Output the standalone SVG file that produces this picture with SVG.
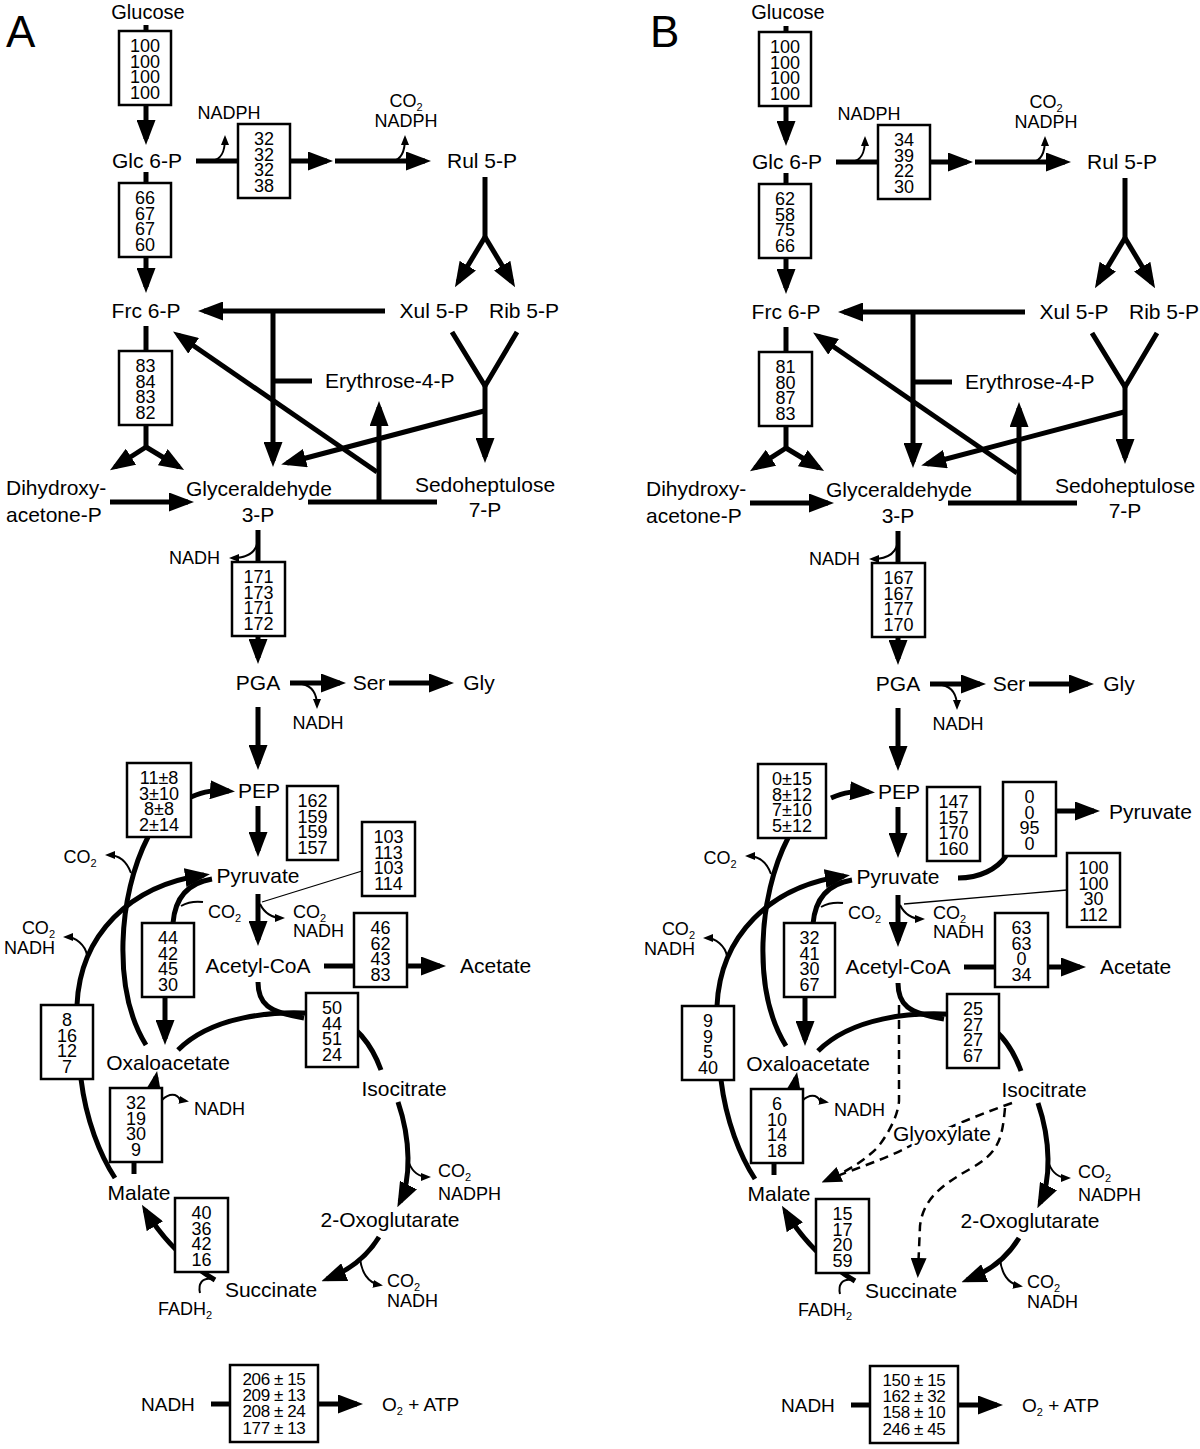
<svg xmlns="http://www.w3.org/2000/svg" xmlns:xlink="http://www.w3.org/1999/xlink" width="1200" height="1449" viewBox="0 0 1200 1449">
<style>
text{font-family:"Liberation Sans",Arial,sans-serif;fill:#000}
.L{font-size:21px}
.G{font-size:20px;text-anchor:middle}
.S{font-size:18px}
.N{font-size:18px;text-anchor:middle}
.R{font-size:17px;text-anchor:middle;letter-spacing:-0.4px}
.Q{font-size:19px}
.m{text-anchor:middle}
.e{text-anchor:end}
.sub{font-size:11px}
.bx{fill:#fff;stroke:#000;stroke-width:2.5}
.k{fill:none;stroke:#000;stroke-width:5}
.t{fill:none;stroke:#000;stroke-width:2}
.th{fill:none;stroke:#000;stroke-width:1.3}
.d{fill:none;stroke:#000;stroke-width:2.5;stroke-dasharray:9 6}
.P{font-size:44px}
</style>
<defs>
<marker id="ah" markerUnits="userSpaceOnUse" markerWidth="25" markerHeight="19" refX="19" refY="9.5" orient="auto"><path d="M0,0L25,9.5L0,19z"/></marker>
<marker id="as" markerUnits="userSpaceOnUse" markerWidth="10" markerHeight="8" refX="7" refY="4" orient="auto"><path d="M0,0L10,4L0,8z"/></marker>
<marker id="ad" markerUnits="userSpaceOnUse" markerWidth="20" markerHeight="16" refX="14" refY="8" orient="auto"><path d="M0,0L20,8L0,16z"/></marker>
</defs>
<rect width="1200" height="1449" fill="#fff"/>

<g id="connectors">
<g id="conn-common">
<path class="k" d="M146,25V31"/>
<path class="k" d="M146,105V139" marker-end="url(#ah)"/>
<path class="k" d="M196,161H327" marker-end="url(#ah)"/>
<path class="k" d="M335,161H425" marker-end="url(#ah)"/>
<path class="t" d="M211,161C222,160 225,151 225,138" marker-end="url(#as)"/>
<path class="t" d="M392,161C402,160 405,151 405,138" marker-end="url(#as)"/>
<path class="k" d="M485,177V237"/>
<path class="k" d="M485,237L458,282" marker-end="url(#ah)"/>
<path class="k" d="M485,237L512,282" marker-end="url(#ah)"/>
<path class="k" d="M146,172V183"/>
<path class="k" d="M146,257V287" marker-end="url(#ah)"/>
<path class="k" d="M385,311H204" marker-end="url(#ah)"/>
<path class="k" d="M273,311V461" marker-end="url(#ah)"/>
<path class="k" d="M273,381H312"/>
<path class="k" d="M452,332L485,386L517,332"/>
<path class="k" d="M485,386V457" marker-end="url(#ah)"/>
<path class="k" d="M484,411L287,463" marker-end="url(#ah)"/>
<path class="k" d="M308,502H437"/>
<path class="k" d="M379,502V407" marker-end="url(#ah)"/>
<path class="k" d="M377,472L178,335" marker-end="url(#ah)"/>
<path class="k" d="M146,326V351"/>
<path class="k" d="M146,425V447"/>
<path class="k" d="M146,447L115,467" marker-end="url(#ah)"/>
<path class="k" d="M146,447L179,467" marker-end="url(#ah)"/>
<path class="k" d="M110,502H188" marker-end="url(#ah)"/>
<path class="k" d="M258,530V562"/>
<path class="t" d="M258,537C258,551 249,558 232,558" marker-end="url(#as)"/>
<path class="k" d="M258,636V658" marker-end="url(#ah)"/>
<path class="k" d="M290,683H340" marker-end="url(#ah)"/>
<path class="k" d="M389,683H448" marker-end="url(#ah)"/>
<path class="t" d="M302,684C312,686 317,694 317,706" marker-end="url(#as)"/>
<path class="k" d="M258,707V764" marker-end="url(#ah)"/>
<path class="k" d="M191,797C205,791 214,790 229,791" marker-end="url(#ah)"/>
<path class="k" d="M258,806V851" marker-end="url(#ah)"/>
<path class="k" d="M258,894V940" marker-end="url(#ah)"/>
<path class="t" d="M260,904C265,914 273,918 282,918" marker-end="url(#as)"/>
<path class="k" d="M173,923C175,898 188,883 212,879"/>
<path class="t" d="M181,906C188,902 195,901 203,902"/>
<path class="k" d="M165,997V1039" marker-end="url(#ah)"/>
<path class="k" d="M77,1005C80,935 130,885 204,875" marker-end="url(#ah)"/>
<path class="t" d="M87,955C85,945 76,937 66,937" marker-end="url(#as)"/>
<path class="k" d="M81,1079C86,1120 100,1155 115,1178"/>
<path class="k" d="M148,837C118,895 112,990 146,1045"/>
<path class="t" d="M131,873C127,862 119,855 108,855" marker-end="url(#as)"/>
<path class="k" d="M324,966H354"/>
<path class="k" d="M407,966H440" marker-end="url(#ah)"/>
<path class="k" d="M178,1050C210,1018 270,1008 330,1015C355,1022 372,1045 381,1070"/>
<path class="k" d="M258,982C258,1004 268,1012 304,1018"/>
<path class="k" d="M154,1088L156,1077" marker-end="url(#ah)"/>
<path class="k" d="M134,1162V1174"/>
<path class="t" d="M162,1100C169,1093 177,1093 180,1100L186,1101" marker-end="url(#as)"/>
<path class="k" d="M215,1280C195,1268 168,1248 145,1210" marker-end="url(#ah)"/>
<path class="t" d="M200,1293C198,1284 202,1277 212,1279"/>
<path class="k" d="M398,1102C411,1140 411,1180 400,1202" marker-end="url(#ah)"/>
<path class="t" d="M409,1163C413,1173 420,1177 428,1177" marker-end="url(#as)"/>
<path class="k" d="M379,1237C365,1260 345,1272 327,1279" marker-end="url(#ah)"/>
<path class="t" d="M360,1257C361,1272 368,1283 380,1285" marker-end="url(#as)"/>
<path class="k" d="M211,1404H230"/>
<path class="k" d="M318,1404H357" marker-end="url(#ah)"/>
</g>
<path class="th" d="M362,871L262,902"/>
<g id="conn-B" transform="translate(640,1)">
<use xlink:href="#conn-common" href="#conn-common"/>
<path class="th" d="M427,889L264,903"/>
<path class="k" d="M318,877C340,877 357,868 366,855"/>
<path class="k" d="M416,810H454" marker-end="url(#ah)"/>
<path class="d" d="M259,1004V1100C258,1114 250,1130 238,1146C222,1162 205,1171 187,1179" marker-end="url(#ad)"/>
<path class="d" d="M372,1102C335,1115 300,1130 268,1146C245,1158 215,1168 192,1177"/>
<path class="d" d="M365,1107C362,1140 358,1152 330,1168C298,1186 283,1200 280,1225L278,1271" marker-end="url(#ad)"/>
</g>
</g>

<g id="nodes-A">
<g id="A-label"><text class="P" x="6" y="47">A</text></g>
<g id="A-glucose"><text class="G" x="148" y="19">Glucose</text></g>
<g id="A-glc6p"><text class="L m" x="147" y="168">Glc 6-P</text></g>
<g id="A-rul5p"><text class="L m" x="482" y="168">Rul 5-P</text></g>
<g id="A-frc6p"><text class="L m" x="146" y="318">Frc 6-P</text></g>
<g id="A-xul5p"><text class="L m" x="434" y="318">Xul 5-P</text></g>
<g id="A-rib5p"><text class="L m" x="524" y="318">Rib 5-P</text></g>
<g id="A-e4p"><text class="L" x="325" y="388">Erythrose-4-P</text></g>
<g id="A-dhap"><text class="L" x="6" y="495">Dihydroxy-</text><text class="L" x="6" y="522">acetone-P</text></g>
<g id="A-gap"><text class="L m" x="259" y="496">Glyceraldehyde</text><text class="L m" x="258" y="522">3-P</text></g>
<g id="A-s7p"><text class="L m" x="485" y="492">Sedoheptulose</text><text class="L m" x="485" y="517">7-P</text></g>
<g id="A-pga"><text class="L m" x="258" y="690">PGA</text></g>
<g id="A-ser"><text class="L m" x="369" y="690">Ser</text></g>
<g id="A-gly"><text class="L m" x="479" y="690">Gly</text></g>
<g id="A-pep"><text class="L m" x="259" y="798">PEP</text></g>
<g id="A-pyr"><text class="L m" x="258" y="883">Pyruvate</text></g>
<g id="A-accoa"><text class="L m" x="258" y="973">Acetyl-CoA</text></g>
<g id="A-acetate"><text class="L" x="460" y="973">Acetate</text></g>
<g id="A-oaa"><text class="L m" x="168" y="1070">Oxaloacetate</text></g>
<g id="A-icit"><text class="L m" x="404" y="1096">Isocitrate</text></g>
<g id="A-mal"><text class="L m" x="139" y="1200">Malate</text></g>
<g id="A-2og"><text class="L m" x="390" y="1227">2-Oxoglutarate</text></g>
<g id="A-succ"><text class="L m" x="271" y="1297">Succinate</text></g>
<g id="A-cofactors">
<text class="S m" x="229" y="119">NADPH</text>
<text class="S m" x="406" y="107">CO<tspan class="sub" dy="4">2</tspan><tspan x="406" dy="16">NADPH</tspan></text>
<text class="S e" x="220" y="564">NADH</text>
<text class="S m" x="318" y="729">NADH</text>
<text class="S m" x="80" y="863">CO<tspan class="sub" dy="4">2</tspan></text>
<text class="S e" x="55" y="934">CO<tspan class="sub" dy="4">2</tspan><tspan x="55" dy="16">NADH</tspan></text>
<text class="S" x="208" y="918">CO<tspan class="sub" dy="4">2</tspan></text>
<text class="S" x="293" y="918">CO<tspan class="sub" dy="4">2</tspan><tspan x="293" dy="15">NADH</tspan></text>
<text class="S" x="194" y="1115">NADH</text>
<text class="S" x="438" y="1177">CO<tspan class="sub" dy="4">2</tspan><tspan x="438" dy="19">NADPH</tspan></text>
<text class="S" x="387" y="1287">CO<tspan class="sub" dy="4">2</tspan><tspan x="387" dy="16">NADH</tspan></text>
<text class="S" x="158" y="1315">FADH<tspan class="sub" dy="4">2</tspan></text>
<text class="Q" x="141" y="1411">NADH</text>
<text class="Q" x="382" y="1411">O<tspan class="sub" dy="4">2</tspan><tspan dy="-4"> + ATP</tspan></text>
</g>
<g id="A-f1"><rect class="bx" x="119" y="31" width="52" height="74"/><text class="N" x="145" y="52">100<tspan x="145" dy="15.7">100</tspan><tspan x="145" dy="15.7">100</tspan><tspan x="145" dy="15.7">100</tspan></text></g>
<g id="A-f2"><rect class="bx" x="238" y="124" width="52" height="74"/><text class="N" x="264" y="145">32<tspan x="264" dy="15.7">32</tspan><tspan x="264" dy="15.7">32</tspan><tspan x="264" dy="15.7">38</tspan></text></g>
<g id="A-f3"><rect class="bx" x="119" y="183" width="52" height="74"/><text class="N" x="145" y="204">66<tspan x="145" dy="15.7">67</tspan><tspan x="145" dy="15.7">67</tspan><tspan x="145" dy="15.7">60</tspan></text></g>
<g id="A-f4"><rect class="bx" x="119" y="351" width="53" height="74"/><text class="N" x="145.5" y="372">83<tspan x="145.5" dy="15.7">84</tspan><tspan x="145.5" dy="15.7">83</tspan><tspan x="145.5" dy="15.7">82</tspan></text></g>
<g id="A-f5"><rect class="bx" x="232" y="562" width="53" height="74"/><text class="N" x="258.5" y="583">171<tspan x="258.5" dy="15.7">173</tspan><tspan x="258.5" dy="15.7">171</tspan><tspan x="258.5" dy="15.7">172</tspan></text></g>
<g id="A-f6"><rect class="bx" x="127" y="763" width="64" height="74"/><text class="N" x="159" y="784">11±8<tspan x="159" dy="15.7">3±10</tspan><tspan x="159" dy="15.7">8±8</tspan><tspan x="159" dy="15.7">2±14</tspan></text></g>
<g id="A-f7"><rect class="bx" x="287" y="786" width="51" height="74"/><text class="N" x="312.5" y="807">162<tspan x="312.5" dy="15.7">159</tspan><tspan x="312.5" dy="15.7">159</tspan><tspan x="312.5" dy="15.7">157</tspan></text></g>
<g id="A-f8"><rect class="bx" x="362" y="822" width="53" height="74"/><text class="N" x="388.5" y="843">103<tspan x="388.5" dy="15.7">113</tspan><tspan x="388.5" dy="15.7">103</tspan><tspan x="388.5" dy="15.7">114</tspan></text></g>
<g id="A-f9"><rect class="bx" x="142" y="923" width="52" height="74"/><text class="N" x="168" y="944">44<tspan x="168" dy="15.7">42</tspan><tspan x="168" dy="15.7">45</tspan><tspan x="168" dy="15.7">30</tspan></text></g>
<g id="A-f10"><rect class="bx" x="354" y="913" width="53" height="74"/><text class="N" x="380.5" y="934">46<tspan x="380.5" dy="15.7">62</tspan><tspan x="380.5" dy="15.7">43</tspan><tspan x="380.5" dy="15.7">83</tspan></text></g>
<g id="A-f11"><rect class="bx" x="41" y="1005" width="52" height="74"/><text class="N" x="67" y="1026">8<tspan x="67" dy="15.7">16</tspan><tspan x="67" dy="15.7">12</tspan><tspan x="67" dy="15.7">7</tspan></text></g>
<g id="A-f12"><rect class="bx" x="306" y="993" width="52" height="74"/><text class="N" x="332" y="1014">50<tspan x="332" dy="15.7">44</tspan><tspan x="332" dy="15.7">51</tspan><tspan x="332" dy="15.7">24</tspan></text></g>
<g id="A-f13"><rect class="bx" x="110" y="1088" width="52" height="74"/><text class="N" x="136" y="1109">32<tspan x="136" dy="15.7">19</tspan><tspan x="136" dy="15.7">30</tspan><tspan x="136" dy="15.7">9</tspan></text></g>
<g id="A-f14"><rect class="bx" x="175" y="1198" width="53" height="74"/><text class="N" x="201.5" y="1219">40<tspan x="201.5" dy="15.7">36</tspan><tspan x="201.5" dy="15.7">42</tspan><tspan x="201.5" dy="15.7">16</tspan></text></g>
<g id="A-f15"><rect class="bx" x="230" y="1365" width="88" height="77"/><text class="R" x="274" y="1385">206 ± 15<tspan x="274" dy="16.2">209 ± 13</tspan><tspan x="274" dy="16.2">208 ± 24</tspan><tspan x="274" dy="16.2">177 ± 13</tspan></text></g>
</g>

<g id="nodes-B" transform="translate(640,1)">
<g id="B-label"><text class="P" x="10" y="46">B</text></g>
<g id="B-glucose"><text class="G" x="148" y="18">Glucose</text></g>
<g id="B-glc6p"><text class="L m" x="147" y="168">Glc 6-P</text></g>
<g id="B-rul5p"><text class="L m" x="482" y="168">Rul 5-P</text></g>
<g id="B-frc6p"><text class="L m" x="146" y="318">Frc 6-P</text></g>
<g id="B-xul5p"><text class="L m" x="434" y="318">Xul 5-P</text></g>
<g id="B-rib5p"><text class="L m" x="524" y="318">Rib 5-P</text></g>
<g id="B-e4p"><text class="L" x="325" y="388">Erythrose-4-P</text></g>
<g id="B-dhap"><text class="L" x="6" y="495">Dihydroxy-</text><text class="L" x="6" y="522">acetone-P</text></g>
<g id="B-gap"><text class="L m" x="259" y="496">Glyceraldehyde</text><text class="L m" x="258" y="522">3-P</text></g>
<g id="B-s7p"><text class="L m" x="485" y="492">Sedoheptulose</text><text class="L m" x="485" y="517">7-P</text></g>
<g id="B-pga"><text class="L m" x="258" y="690">PGA</text></g>
<g id="B-ser"><text class="L m" x="369" y="690">Ser</text></g>
<g id="B-gly"><text class="L m" x="479" y="690">Gly</text></g>
<g id="B-pep"><text class="L m" x="259" y="798">PEP</text></g>
<g id="B-pyr"><text class="L m" x="258" y="883">Pyruvate</text></g>
<g id="B-pyrout"><text class="L" x="469" y="818">Pyruvate</text></g>
<g id="B-accoa"><text class="L m" x="258" y="973">Acetyl-CoA</text></g>
<g id="B-acetate"><text class="L" x="460" y="973">Acetate</text></g>
<g id="B-oaa"><text class="L m" x="168" y="1070">Oxaloacetate</text></g>
<g id="B-icit"><text class="L m" x="404" y="1096">Isocitrate</text></g>
<g id="B-glyox"><text class="L" x="253" y="1140" stroke="#fff" stroke-width="6" paint-order="stroke">Glyoxylate</text></g>
<g id="B-mal"><text class="L m" x="139" y="1200">Malate</text></g>
<g id="B-2og"><text class="L m" x="390" y="1227">2-Oxoglutarate</text></g>
<g id="B-succ"><text class="L m" x="271" y="1297">Succinate</text></g>
<g id="B-cofactors">
<text class="S m" x="229" y="119">NADPH</text>
<text class="S m" x="406" y="107">CO<tspan class="sub" dy="4">2</tspan><tspan x="406" dy="16">NADPH</tspan></text>
<text class="S e" x="220" y="564">NADH</text>
<text class="S m" x="318" y="729">NADH</text>
<text class="S m" x="80" y="863">CO<tspan class="sub" dy="4">2</tspan></text>
<text class="S e" x="55" y="934">CO<tspan class="sub" dy="4">2</tspan><tspan x="55" dy="16">NADH</tspan></text>
<text class="S" x="208" y="918">CO<tspan class="sub" dy="4">2</tspan></text>
<text class="S" x="293" y="918">CO<tspan class="sub" dy="4">2</tspan><tspan x="293" dy="15">NADH</tspan></text>
<text class="S" x="194" y="1115">NADH</text>
<text class="S" x="438" y="1177">CO<tspan class="sub" dy="4">2</tspan><tspan x="438" dy="19">NADPH</tspan></text>
<text class="S" x="387" y="1287">CO<tspan class="sub" dy="4">2</tspan><tspan x="387" dy="16">NADH</tspan></text>
<text class="S" x="158" y="1315">FADH<tspan class="sub" dy="4">2</tspan></text>
<text class="Q" x="141" y="1411">NADH</text>
<text class="Q" x="382" y="1411">O<tspan class="sub" dy="4">2</tspan><tspan dy="-4"> + ATP</tspan></text>
</g>
<g id="B-f1"><rect class="bx" x="119" y="31" width="52" height="74"/><text class="N" x="145" y="52">100<tspan x="145" dy="15.7">100</tspan><tspan x="145" dy="15.7">100</tspan><tspan x="145" dy="15.7">100</tspan></text></g>
<g id="B-f2"><rect class="bx" x="238" y="124" width="52" height="74"/><text class="N" x="264" y="145">34<tspan x="264" dy="15.7">39</tspan><tspan x="264" dy="15.7">22</tspan><tspan x="264" dy="15.7">30</tspan></text></g>
<g id="B-f3"><rect class="bx" x="119" y="183" width="52" height="74"/><text class="N" x="145" y="204">62<tspan x="145" dy="15.7">58</tspan><tspan x="145" dy="15.7">75</tspan><tspan x="145" dy="15.7">66</tspan></text></g>
<g id="B-f4"><rect class="bx" x="119" y="351" width="53" height="74"/><text class="N" x="145.5" y="372">81<tspan x="145.5" dy="15.7">80</tspan><tspan x="145.5" dy="15.7">87</tspan><tspan x="145.5" dy="15.7">83</tspan></text></g>
<g id="B-f5"><rect class="bx" x="232" y="562" width="53" height="74"/><text class="N" x="258.5" y="583">167<tspan x="258.5" dy="15.7">167</tspan><tspan x="258.5" dy="15.7">177</tspan><tspan x="258.5" dy="15.7">170</tspan></text></g>
<g id="B-f6"><rect class="bx" x="118" y="763" width="68" height="74"/><text class="N" x="152" y="784">0±15<tspan x="152" dy="15.7">8±12</tspan><tspan x="152" dy="15.7">7±10</tspan><tspan x="152" dy="15.7">5±12</tspan></text></g>
<g id="B-f7"><rect class="bx" x="287" y="786" width="53" height="74"/><text class="N" x="313.5" y="807">147<tspan x="313.5" dy="15.7">157</tspan><tspan x="313.5" dy="15.7">170</tspan><tspan x="313.5" dy="15.7">160</tspan></text></g>
<g id="B-fx"><rect class="bx" x="363" y="781" width="53" height="74"/><text class="N" x="389.5" y="802">0<tspan x="389.5" dy="15.7">0</tspan><tspan x="389.5" dy="15.7">95</tspan><tspan x="389.5" dy="15.7">0</tspan></text></g>
<g id="B-f8"><rect class="bx" x="427" y="852" width="53" height="74"/><text class="N" x="453.5" y="873">100<tspan x="453.5" dy="15.7">100</tspan><tspan x="453.5" dy="15.7">30</tspan><tspan x="453.5" dy="15.7">112</tspan></text></g>
<g id="B-f9"><rect class="bx" x="144" y="922" width="51" height="74"/><text class="N" x="169.5" y="943">32<tspan x="169.5" dy="15.7">41</tspan><tspan x="169.5" dy="15.7">30</tspan><tspan x="169.5" dy="15.7">67</tspan></text></g>
<g id="B-f10"><rect class="bx" x="355" y="912" width="53" height="74"/><text class="N" x="381.5" y="933">63<tspan x="381.5" dy="15.7">63</tspan><tspan x="381.5" dy="15.7">0</tspan><tspan x="381.5" dy="15.7">34</tspan></text></g>
<g id="B-f11"><rect class="bx" x="42" y="1005" width="52" height="74"/><text class="N" x="68" y="1026">9<tspan x="68" dy="15.7">9</tspan><tspan x="68" dy="15.7">5</tspan><tspan x="68" dy="15.7">40</tspan></text></g>
<g id="B-f12"><rect class="bx" x="307" y="993" width="52" height="74"/><text class="N" x="333" y="1014">25<tspan x="333" dy="15.7">27</tspan><tspan x="333" dy="15.7">27</tspan><tspan x="333" dy="15.7">67</tspan></text></g>
<g id="B-f13"><rect class="bx" x="111" y="1088" width="52" height="74"/><text class="N" x="137" y="1109">6<tspan x="137" dy="15.7">10</tspan><tspan x="137" dy="15.7">14</tspan><tspan x="137" dy="15.7">18</tspan></text></g>
<g id="B-f14"><rect class="bx" x="176" y="1198" width="53" height="74"/><text class="N" x="202.5" y="1219">15<tspan x="202.5" dy="15.7">17</tspan><tspan x="202.5" dy="15.7">20</tspan><tspan x="202.5" dy="15.7">59</tspan></text></g>
<g id="B-f15"><rect class="bx" x="230" y="1365" width="88" height="77"/><text class="R" x="274" y="1385">150 ± 15<tspan x="274" dy="16.2">162 ± 32</tspan><tspan x="274" dy="16.2">158 ± 10</tspan><tspan x="274" dy="16.2">246 ± 45</tspan></text></g>
</g>
</svg>
